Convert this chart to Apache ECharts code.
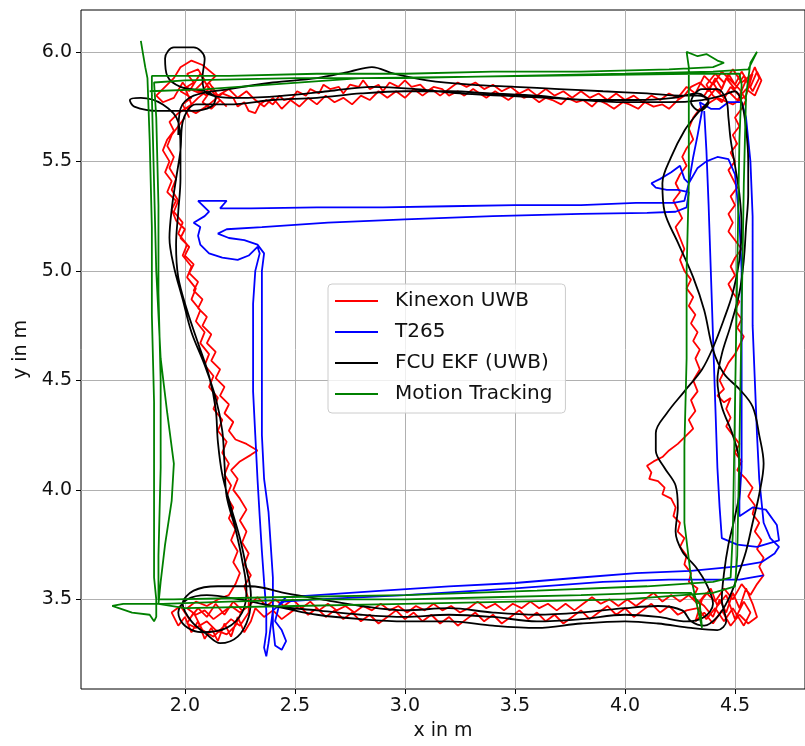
<!DOCTYPE html>
<html><head><meta charset="utf-8">
<script src="https://cdn.jsdelivr.net/npm/echarts@6/dist/echarts.min.js"></script>
<style>html,body{margin:0;padding:0;background:#fff}#chart{width:805px;height:746px}</style>
</head><body><div id="chart"></div>
<script>
const xTicks = [2.0, 2.5, 3.0, 3.5, 4.0, 4.5];
const yTicks = [3.5, 4.0, 4.5, 5.0, 5.5, 6.0];
const seriesNames = ['Kinexon UWB', 'T265', 'FCU EKF (UWB)', 'Motion Tracking'];

const kinexonUWB = [
[2.02,5.70],[1.99,5.76],[2.03,5.79],[1.98,5.82],[2.04,5.86],[2.01,5.90],[2.06,5.92],[2.09,5.87],[2.05,5.83],[2.10,5.80],[2.13,5.84],[2.08,5.77],[2.12,5.74],[2.16,5.78],[2.19,5.75],
[2.14,5.80],[2.10,5.85],[2.14,5.89],[2.08,5.94],[2.03,5.96],[1.98,5.93],[1.95,5.88],[1.91,5.84],[1.87,5.80],[1.90,5.77],[1.95,5.79],[1.99,5.86],[2.02,5.82],[2.07,5.90],[2.11,5.83],[2.06,5.79],[2.01,5.74],[2.05,5.72],[2.11,5.76],[2.17,5.81],
[2.22,5.79],[2.24,5.75],[2.27,5.77],[2.29,5.73],[2.32,5.72],[2.34,5.76],[2.37,5.78],[2.40,5.76],[2.43,5.80],[2.45,5.78],[2.49,5.79],[2.51,5.82],[2.55,5.80],[2.57,5.83],[2.61,5.81],[2.63,5.85],[2.66,5.83],[2.70,5.84],[2.72,5.81],[2.75,5.85],[2.79,5.84],[2.81,5.87],[2.84,5.83],[2.88,5.85],[2.90,5.82],[2.93,5.86],[2.97,5.84],[3.00,5.87],[3.03,5.84],[3.07,5.85],[3.10,5.82],[3.13,5.84],[3.17,5.83],[3.20,5.80],[3.24,5.82],[3.27,5.80],[3.31,5.83],[3.34,5.81],[3.37,5.79],[3.41,5.82],[3.44,5.80],[3.47,5.78],[3.51,5.81],[3.54,5.79],[3.57,5.80],[3.61,5.77],[3.64,5.79],[3.67,5.78],[3.71,5.76],[3.74,5.79],[3.78,5.77],[3.81,5.78],[3.85,5.75],[3.88,5.78],[3.92,5.76],[3.95,5.74],[3.99,5.77],[4.02,5.76],[4.06,5.74],[4.09,5.77],[4.13,5.75],[4.17,5.76],[4.20,5.74],[4.24,5.78],[4.27,5.80],[4.30,5.84],
[4.34,5.86],[4.38,5.82],[4.41,5.88],[4.44,5.83],[4.47,5.90],[4.50,5.85],[4.53,5.91],[4.56,5.86],[4.59,5.93],[4.61,5.88],[4.58,5.82],[4.55,5.87],[4.52,5.80],[4.48,5.84],[4.45,5.79],[4.41,5.83],[4.37,5.78],
[4.36,5.80],[4.40,5.86],[4.43,5.81],[4.46,5.88],[4.50,5.83],[4.54,5.89],[4.57,5.84],[4.60,5.91],[4.62,5.87],[4.59,5.80],[4.55,5.83],[4.51,5.78],[4.47,5.82],[4.44,5.77],[4.40,5.80],[4.37,5.85],[4.41,5.90],[4.45,5.86],[4.49,5.92],[4.53,5.86],[4.58,5.90],[4.55,5.80],[4.49,5.76],[4.42,5.79],[4.34,5.74],
[4.31,5.70],[4.29,5.65],[4.31,5.60],[4.28,5.56],[4.26,5.52],[4.28,5.48],[4.25,5.44],[4.23,5.40],[4.25,5.36],[4.22,5.32],[4.24,5.28],[4.26,5.24],[4.23,5.20],[4.25,5.15],[4.27,5.10],[4.25,5.05],[4.27,5.00],[4.30,4.96],[4.28,4.92],[4.31,4.88],[4.29,4.84],[4.32,4.80],[4.30,4.76],[4.33,4.72],[4.31,4.68],[4.34,4.64],[4.32,4.60],[4.34,4.55],[4.31,4.50],[4.33,4.45],[4.30,4.41],[4.32,4.36],[4.29,4.32],[4.31,4.28],[4.27,4.24],[4.24,4.21],[4.20,4.18],[4.17,4.15],[4.13,4.13],[4.10,4.11],[4.12,4.08],[4.11,4.05],[4.15,4.04],[4.18,4.01],[4.17,3.98],[4.21,3.96],[4.23,3.92],[4.22,3.88],[4.25,3.85],[4.24,3.81],[4.27,3.78],[4.25,3.74],[4.28,3.70],[4.27,3.66],[4.30,3.62],[4.29,3.58],[4.33,3.55],[4.31,3.51],
[4.36,3.47],[4.40,3.42],[4.43,3.50],[4.46,3.44],[4.49,3.53],[4.52,3.46],[4.55,3.55],[4.58,3.48],[4.60,3.42],[4.56,3.39],[4.52,3.43],[4.48,3.38],[4.44,3.45],[4.40,3.39],[4.36,3.44],[4.32,3.40],
[4.35,3.50],[4.39,3.55],[4.42,3.47],[4.46,3.52],[4.50,3.41],[4.54,3.49],[4.57,3.44],[4.54,3.38],[4.49,3.46],[4.45,3.40],[4.41,3.46],[4.37,3.41],[4.33,3.46],[4.28,3.45],
[4.24,3.43],[4.20,3.47],[4.16,3.44],[4.12,3.48],[4.08,3.45],[4.04,3.42],[4.00,3.46],[3.96,3.43],[3.92,3.47],[3.88,3.44],[3.84,3.41],[3.80,3.45],[3.76,3.42],[3.72,3.39],[3.68,3.43],[3.64,3.40],[3.60,3.44],[3.56,3.41],[3.52,3.45],[3.48,3.42],[3.44,3.39],[3.40,3.43],[3.36,3.40],[3.32,3.44],[3.28,3.41],[3.24,3.38],[3.20,3.42],[3.16,3.39],[3.12,3.43],[3.08,3.40],[3.04,3.44],[3.00,3.41],[2.96,3.45],[2.92,3.42],[2.88,3.39],[2.84,3.43],[2.80,3.40],[2.76,3.44],[2.72,3.41],[2.68,3.45],[2.64,3.42],[2.60,3.46],[2.56,3.43],[2.52,3.47],[2.48,3.44],[2.44,3.41],[2.40,3.45],[2.36,3.42],[2.32,3.46],
[2.30,3.40],[2.27,3.35],[2.24,3.42],[2.21,3.33],[2.18,3.39],[2.15,3.31],[2.12,3.37],[2.09,3.32],[2.06,3.40],[2.03,3.35],[2.00,3.42],[1.97,3.38],[1.94,3.44],[1.98,3.47],[2.02,3.41],[2.06,3.46],[2.10,3.42],[2.14,3.48],[2.18,3.43],[2.22,3.49],[2.26,3.45],
[2.23,3.38],[2.19,3.34],[2.14,3.36],[2.10,3.40],[2.05,3.37],[2.01,3.39],[2.04,3.44],[2.08,3.36],[2.13,3.33],[2.17,3.37],[2.21,3.41],[2.25,3.38],[2.29,3.44],[2.29,3.50],
[2.27,3.56],[2.30,3.61],[2.27,3.66],[2.29,3.71],[2.26,3.76],[2.28,3.81],[2.25,3.86],[2.28,3.91],[2.25,3.96],[2.22,4.00],[2.24,4.05],[2.21,4.09],[2.25,4.13],[2.30,4.16],[2.33,4.18],[2.28,4.21],[2.23,4.23],[2.20,4.27],[2.22,4.31],[2.18,4.35],[2.20,4.39],[2.16,4.43],[2.18,4.47],[2.14,4.51],[2.16,4.55],[2.12,4.59],[2.14,4.63],[2.10,4.67],[2.12,4.71],[2.08,4.75],[2.10,4.79],[2.06,4.83],[2.08,4.87],[2.04,4.91],[2.06,4.95],[2.02,4.99],[2.04,5.03],[2.00,5.07],[2.02,5.11],[1.98,5.15],[2.00,5.19],[1.96,5.23],[1.94,5.28],[1.96,5.32],[1.92,5.36],[1.94,5.41],[1.91,5.45],[1.93,5.50],[1.90,5.55],[1.92,5.60],[1.95,5.64],[1.93,5.68],[1.97,5.72],
[2.03,5.76],[2.00,5.84],[2.07,5.81],[2.11,5.86],[2.15,5.80],
[2.20,5.83],[2.24,5.79],[2.28,5.82],[2.32,5.78],[2.36,5.75],[2.40,5.79],[2.44,5.74],[2.48,5.78],[2.52,5.75],[2.56,5.79],[2.60,5.76],[2.64,5.80],[2.68,5.77],[2.72,5.79],[2.76,5.76],[2.80,5.80],[2.84,5.78],[2.88,5.82],[2.92,5.79],[2.96,5.82],[3.00,5.79],[3.04,5.83],[3.08,5.80],[3.12,5.83],[3.16,5.80],[3.20,5.83],[3.24,5.86],[3.28,5.84],[3.32,5.86],[3.36,5.83],[3.40,5.85],[3.44,5.82],[3.48,5.84],[3.52,5.81],[3.56,5.83],[3.60,5.80],[3.64,5.83],[3.68,5.80],[3.72,5.82],[3.76,5.79],[3.80,5.82],[3.84,5.79],[3.88,5.81],[3.92,5.78],[3.96,5.81],[4.00,5.78],[4.04,5.80],[4.08,5.77],[4.12,5.80],[4.16,5.78],[4.20,5.81],[4.24,5.79],[4.28,5.84],[4.32,5.81],[4.36,5.89],[4.40,5.85],[4.44,5.91],[4.48,5.87],[4.52,5.83],[4.55,5.78],
[4.53,5.74],[4.50,5.70],[4.52,5.66],[4.49,5.62],[4.51,5.58],[4.48,5.54],[4.50,5.50],[4.47,5.46],[4.49,5.42],[4.51,5.38],[4.48,5.34],[4.50,5.30],[4.47,5.26],[4.49,5.22],[4.47,5.18],[4.50,5.14],[4.53,5.10],[4.50,5.06],[4.48,5.02],[4.50,4.98],[4.47,4.94],[4.49,4.90],[4.52,4.86],[4.50,4.82],[4.53,4.78],[4.51,4.74],[4.54,4.70],[4.52,4.66],[4.50,4.62],[4.47,4.58],[4.45,4.54],[4.43,4.50],[4.45,4.46],[4.42,4.43],[4.45,4.40],[4.48,4.42],[4.46,4.37],[4.48,4.33],[4.46,4.29],[4.49,4.25],[4.52,4.21],[4.50,4.17],[4.53,4.13],[4.51,4.09],[4.55,4.05],[4.58,4.01],[4.56,3.97],[4.59,3.93],[4.58,3.89],[4.61,3.85],[4.59,3.81],[4.62,3.77],[4.60,3.73],[4.63,3.69],[4.61,3.65],[4.63,3.61],[4.60,3.57],
[4.57,3.52],[4.53,3.57],[4.49,3.50],[4.45,3.55],[4.41,3.49],[4.37,3.53],[4.33,3.48],[4.29,3.52],
[4.25,3.49],[4.21,3.52],[4.17,3.49],[4.13,3.53],[4.09,3.50],[4.05,3.47],[4.01,3.50],[3.97,3.47],[3.93,3.50],[3.89,3.48],[3.85,3.51],[3.81,3.48],[3.77,3.45],[3.73,3.48],[3.69,3.45],[3.65,3.48],[3.61,3.46],[3.57,3.49],[3.53,3.46],[3.49,3.48],[3.45,3.45],[3.41,3.48],[3.37,3.46],[3.33,3.49],[3.29,3.46],[3.25,3.44],[3.21,3.47],[3.17,3.45],[3.13,3.48],[3.09,3.45],[3.05,3.47],[3.01,3.44],[2.97,3.47],[2.93,3.45],[2.89,3.48],[2.85,3.45],[2.81,3.47],[2.77,3.44],[2.73,3.47],[2.69,3.45],[2.65,3.48],[2.61,3.45],[2.57,3.49],[2.53,3.46],[2.49,3.50],[2.45,3.47],[2.41,3.50],[2.37,3.47],[2.33,3.51],
[2.29,3.47],[2.25,3.44],[2.21,3.47],[2.17,3.44],[2.13,3.41],[2.09,3.45],[2.05,3.43],[2.01,3.46],[2.05,3.49],[2.10,3.47],[2.15,3.50],[2.20,3.52],
[2.23,3.57],[2.25,3.62],[2.22,3.67],[2.24,3.72],[2.21,3.77],[2.23,3.82],[2.20,3.87],[2.22,3.92],[2.19,3.97],[2.21,4.02],[2.18,4.07],[2.20,4.12],[2.17,4.17],[2.19,4.22],[2.15,4.27],[2.17,4.32],[2.13,4.37],[2.15,4.42],[2.11,4.47],[2.13,4.52],[2.09,4.57],[2.11,4.62],[2.07,4.67],[2.09,4.72],[2.05,4.77],[2.07,4.82],[2.03,4.87],[2.05,4.92],[2.01,4.97],[2.03,5.02],[1.99,5.07],[2.01,5.12],[1.97,5.17],[1.99,5.22],[1.95,5.27],[1.97,5.32],[1.94,5.37],[1.96,5.42],[1.93,5.47],[1.95,5.52],[1.92,5.57],[1.94,5.62],[1.97,5.66],[2.00,5.70]
];

const t265 = [
[4.63,3.61],[4.52,3.59],[4.20,3.59],[3.90,3.58],[3.50,3.55],[3.00,3.52],[2.60,3.50],[2.45,3.49],[2.40,3.45],[2.38,3.30],[2.37,3.24],[2.36,3.28],
[2.37,3.35],[2.37,3.45],[2.36,3.58],[2.35,3.72],[2.34,3.88],[2.33,4.05],[2.32,4.25],[2.31,4.45],[2.31,4.65],[2.31,4.85],[2.32,5.00],[2.34,5.08],[2.33,5.11],
[2.29,5.07],[2.24,5.05],[2.17,5.06],[2.11,5.08],[2.07,5.12],[2.06,5.16],[2.07,5.20],[2.04,5.22],[2.09,5.25],[2.11,5.27],[2.06,5.32],[2.19,5.32],[2.16,5.285],
[2.30,5.285],[2.60,5.29],[2.90,5.29],[3.20,5.295],[3.50,5.30],[3.80,5.30],[4.05,5.31],[4.22,5.31],[4.27,5.32],
[4.29,5.40],[4.31,5.52],[4.33,5.62],[4.35,5.73],[4.34,5.77],[4.39,5.74],[4.43,5.74],[4.47,5.77],[4.53,5.77],[4.55,5.70],
[4.57,5.50],[4.58,5.25],[4.58,5.00],[4.58,4.75],[4.59,4.50],[4.60,4.25],[4.61,4.05],[4.62,3.95],[4.63,3.85],
[4.66,3.78],[4.70,3.74],[4.68,3.71],[4.62,3.67],
[4.50,3.65],[4.30,3.63],[4.05,3.62],[3.80,3.60],[3.50,3.575],[3.20,3.56],[2.90,3.54],[2.60,3.52],[2.46,3.51],
[2.43,3.48],[2.41,3.40],[2.44,3.36],[2.46,3.31],[2.44,3.27],[2.41,3.29],
[2.40,3.38],[2.40,3.48],[2.40,3.60],[2.39,3.75],[2.38,3.90],[2.36,4.05],[2.35,4.25],[2.35,4.45],[2.35,4.65],[2.35,4.85],[2.35,5.00],[2.36,5.08],
[2.33,5.12],[2.27,5.14],[2.20,5.15],[2.15,5.17],[2.19,5.19],[2.35,5.20],[2.65,5.22],[3.00,5.235],[3.40,5.25],[3.80,5.26],[4.10,5.265],[4.23,5.27],[4.28,5.29],
[4.29,5.36],[4.24,5.37],[4.19,5.37],[4.14,5.38],[4.12,5.40],[4.16,5.42],[4.21,5.45],[4.25,5.48],[4.27,5.42],[4.29,5.40],[4.33,5.47],[4.37,5.50],[4.42,5.52],[4.47,5.51],[4.50,5.44],
[4.52,5.23],[4.53,5.00],[4.53,4.78],[4.53,4.55],[4.53,4.30],[4.53,4.10],[4.52,3.95],[4.52,3.88],
[4.58,3.92],[4.64,3.91],[4.69,3.84],[4.70,3.77],[4.60,3.74],[4.51,3.75],[4.44,3.78],
[4.43,3.92],[4.42,4.10],[4.41,4.40],[4.40,4.70],[4.39,5.00],[4.38,5.30],[4.37,5.55],[4.36,5.73]
];

const fcuEKF = [
[1.97,5.62],[1.98,5.74],[2.04,5.80],[2.20,5.83],[2.40,5.86],[2.60,5.88],[2.75,5.91],[2.85,5.93],[2.95,5.90],[3.10,5.87],[3.30,5.85],[3.50,5.84],[3.70,5.83],[3.90,5.82],[4.10,5.81],[4.25,5.80],[4.33,5.80],[4.38,5.78],
[4.33,5.72],[4.27,5.64],[4.21,5.52],[4.17,5.40],[4.18,5.27],[4.24,5.13],[4.31,4.97],[4.36,4.82],[4.40,4.64],[4.45,4.53],[4.52,4.46],[4.58,4.38],[4.61,4.25],[4.63,4.12],[4.61,3.98],[4.58,3.85],[4.55,3.72],[4.51,3.60],[4.47,3.50],[4.42,3.42],[4.36,3.38],[4.30,3.40],[4.26,3.45],
[4.15,3.47],[4.00,3.46],[3.80,3.44],[3.60,3.43],[3.40,3.44],[3.20,3.46],[3.00,3.45],[2.80,3.47],[2.62,3.50],[2.45,3.53],[2.30,3.56],[2.15,3.56],[2.04,3.54],[1.99,3.48],[2.03,3.40],[2.10,3.34],[2.16,3.30],[2.24,3.33],[2.29,3.42],[2.30,3.52],
[2.28,3.64],[2.25,3.78],[2.21,3.92],[2.17,4.07],[2.15,4.22],[2.14,4.37],[2.11,4.52],[2.06,4.67],[2.01,4.82],[1.97,4.97],[1.96,5.12],[1.97,5.27],[1.98,5.42],[1.98,5.56],
[1.97,5.68],[1.90,5.76],[1.80,5.79],[1.75,5.78],[1.77,5.75],[1.88,5.73],[2.03,5.73],[2.12,5.75],[2.14,5.79],[2.09,5.82],[1.98,5.84],[1.92,5.89],[1.91,5.97],[1.95,6.02],[2.04,6.02],[2.09,5.97],[2.08,5.88],[2.10,5.81],
[2.25,5.79],[2.45,5.80],[2.65,5.82],[2.85,5.84],[3.05,5.83],[3.25,5.81],[3.45,5.80],[3.65,5.79],[3.85,5.78],[4.05,5.78],[4.22,5.79],[4.33,5.81],[4.38,5.77],[4.34,5.73],[4.30,5.77],[4.35,5.83],[4.42,5.83],[4.46,5.78],
[4.47,5.70],[4.48,5.60],[4.50,5.48],[4.52,5.35],[4.53,5.20],[4.52,5.05],[4.49,4.90],[4.45,4.78],[4.40,4.65],[4.35,4.55],[4.27,4.45],[4.19,4.35],[4.14,4.26],[4.14,4.18],[4.18,4.10],[4.23,4.02],[4.24,3.92],[4.23,3.81],[4.26,3.72],[4.32,3.65],[4.37,3.57],[4.40,3.48],[4.36,3.42],[4.28,3.40],
[4.15,3.42],[4.00,3.43],[3.80,3.41],[3.60,3.40],[3.40,3.42],[3.20,3.43],[3.00,3.42],[2.80,3.43],[2.60,3.45],[2.40,3.47],[2.25,3.50],[2.10,3.52],[2.01,3.50],[1.97,3.44],[2.00,3.38],[2.08,3.35],[2.19,3.37],[2.26,3.44],[2.28,3.54],
[2.26,3.68],[2.23,3.82],[2.19,3.97],[2.18,4.12],[2.17,4.27],[2.14,4.42],[2.09,4.57],[2.03,4.72],[1.99,4.87],[1.95,5.02],[1.93,5.15],[1.94,5.28],[1.96,5.42],[1.98,5.55],[1.99,5.68],
[2.05,5.76],[2.20,5.76],[2.40,5.78],[2.60,5.79],[2.80,5.81],[3.00,5.82],[3.20,5.82],[3.40,5.81],[3.60,5.80],[3.80,5.78],[4.00,5.77],[4.20,5.77],[4.35,5.78],[4.44,5.80],[4.50,5.82],[4.53,5.77],
[4.55,5.65],[4.56,5.50],[4.56,5.35],[4.55,5.20],[4.54,5.05],[4.52,4.90],[4.48,4.75],[4.44,4.62],[4.42,4.50],[4.44,4.38],[4.49,4.25],[4.52,4.12],[4.52,4.00],[4.50,3.88],[4.47,3.75],[4.45,3.62],[4.44,3.50],[4.46,3.40],[4.42,3.36],
[4.30,3.37],[4.15,3.39],[4.00,3.40],[3.80,3.39],[3.60,3.37],[3.40,3.38],[3.20,3.40],[3.00,3.40],[2.80,3.41],[2.60,3.43],[2.45,3.46],[2.35,3.48]
];

const motionTracking = [
[1.80,6.05],[1.81,5.99],[1.82,5.93],[1.83,5.88],[1.84,5.60],[1.85,5.20],[1.85,4.80],[1.86,4.40],[1.86,4.00],[1.86,3.60],[1.87,3.50],[1.87,3.42],[1.86,3.40],[1.84,3.43],[1.76,3.44],[1.70,3.46],[1.67,3.47],[1.72,3.48],[1.90,3.48],[2.20,3.49],[2.60,3.50],[3.00,3.50],[3.40,3.51],[3.80,3.52],[4.10,3.53],[4.30,3.53],[4.34,3.48],[4.35,3.37],[4.33,3.46],[4.30,3.60],[4.27,3.85],[4.27,4.20],[4.28,4.60],[4.28,5.00],[4.29,5.40],[4.29,5.80],[4.29,5.93],[4.28,6.00],[4.33,5.98],[4.37,5.99],[4.42,5.96],[4.45,5.95],[4.40,5.93],[4.20,5.92],[3.80,5.91],[3.40,5.91],[3.00,5.90],[2.60,5.90],[2.20,5.89],[1.95,5.89],[1.85,5.89],
[1.85,5.80],[1.86,5.40],[1.87,5.00],[1.89,4.60],[1.92,4.35],[1.95,4.12],[1.94,3.95],[1.91,3.75],[1.89,3.58],[1.88,3.48],[2.00,3.46],[2.50,3.47],[3.00,3.48],[3.50,3.49],[4.00,3.50],[4.40,3.53],[4.50,3.56],[4.51,3.70],[4.52,4.20],[4.53,4.80],[4.54,5.40],[4.55,5.80],[4.57,5.95],[4.60,6.00],[4.56,5.92],[4.40,5.91],[4.00,5.90],[3.50,5.89],[3.00,5.88],[2.50,5.88],[2.00,5.87],[1.86,5.86],
[1.87,5.70],[1.88,5.30],[1.88,4.90],[1.89,4.50],[1.89,4.10],[1.88,3.70],[1.88,3.50],[1.95,3.50],[2.40,3.51],[3.00,3.52],[3.60,3.54],[4.10,3.56],[4.40,3.58],[4.48,3.60],[4.49,3.80],[4.50,4.40],[4.51,5.00],[4.52,5.60],[4.53,5.85],[4.52,5.90],[4.30,5.90],[3.60,5.89],[2.80,5.88],[2.10,5.83],[1.84,5.82]
];

const FONT = 'DejaVu Sans';
const TXT = '#111';
const chart = echarts.init(document.getElementById('chart'), null, {renderer: 'canvas'});
function mkSeries(name, data, color, smooth) {
  return {name, type: 'line', data, showSymbol: false, symbol: 'none', smooth: smooth,
    lineStyle: {color, width: 1.8}, itemStyle: {color}, clip: true, animation: false};
}
chart.setOption({
  animation: false,
  grid: {left: 81, top: 10, right: -1, bottom: 54, show: true, borderColor: '#000', borderWidth: 1, backgroundColor: 'transparent'},
  xAxis: {type: 'value', min: 1.528, max: 4.818,
    axisLine: {show: false},
    axisTick: {show: true, length: 5, lineStyle: {color: '#000'}, customValues: xTicks},
    axisLabel: {customValues: xTicks, formatter: v => v.toFixed(1), fontFamily: FONT, fontSize: 19, color: TXT, margin: 8},
    splitLine: {show: true, lineStyle: {color: '#b0b0b0', width: 1}},
    name: 'x in m', nameLocation: 'middle', nameGap: 33,
    nameTextStyle: {fontFamily: FONT, fontSize: 19, color: TXT}},
  yAxis: {type: 'value', min: 3.091, max: 6.191,
    axisLine: {show: false},
    axisTick: {show: true, length: 5, lineStyle: {color: '#000'}, customValues: yTicks},
    axisLabel: {customValues: yTicks, formatter: v => v.toFixed(1), fontFamily: FONT, fontSize: 19, color: TXT, margin: 9},
    splitLine: {show: true, lineStyle: {color: '#b0b0b0', width: 1}},
    name: 'y in m', nameLocation: 'middle', nameGap: 50,
    nameTextStyle: {fontFamily: FONT, fontSize: 19, color: TXT}},
  legend: {orient: 'vertical', left: 328, top: 284, itemWidth: 43, itemHeight: 2, icon: 'rect', itemGap: 11,
    padding: [7, 13, 9, 7], backgroundColor: 'rgba(255,255,255,0.8)', borderColor: '#cccccc', borderWidth: 1, borderRadius: 4,
    data: seriesNames,
    textStyle: {fontFamily: FONT, fontSize: 20, color: TXT, lineHeight: 20, padding: [0, 0, 0, 12]}},
  series: [
    mkSeries(seriesNames[0], kinexonUWB, '#ff0000', false),
    mkSeries(seriesNames[1], t265, '#0000ff', false),
    mkSeries(seriesNames[2], fcuEKF, '#000000', 0.35),
    mkSeries(seriesNames[3], motionTracking, '#008000', false)
  ]
});
</script></body></html>
